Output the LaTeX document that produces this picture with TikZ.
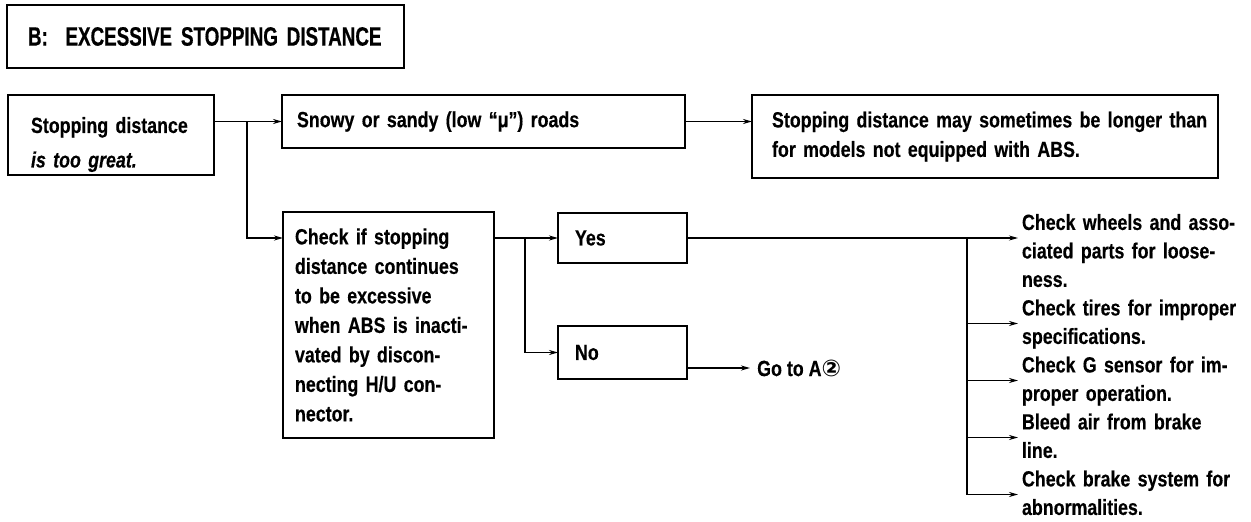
\documentclass[tikz,border=0pt]{standalone}
\usepackage{fontspec}
\setmainfont{Liberation Sans}
\newfontfamily\bodyfont{Liberation Sans}[FakeStretch=0.81, BoldFeatures={FakeBold=0.35}, BoldItalicFeatures={FakeBold=0.35}]
\newfontfamily\titlefont{Liberation Sans}[FakeStretch=0.71, BoldFeatures={FakeBold=0.5}]
\newfontfamily\symfont{DejaVu Sans}
\usetikzlibrary{arrows.meta}
\newcommand\nw[1]{\mbox{#1}}
\begin{document}
\begin{tikzpicture}[x=1pt,y=-1pt,
  box/.style={draw, line width=1.8pt, rectangle, anchor=north west, outer sep=0pt,
    align=left, inner ysep=0pt},
  txt/.style={font=\bodyfont\bfseries\fontsize{22}{29.5}\selectfont},
  item/.style={anchor=north west, inner sep=0pt, outer sep=0pt, align=left,
    text width=228pt, font=\bodyfont\bfseries\fontsize{22}{28.5}\selectfont},
  ln/.style={line width=1.8pt},
  arr/.style={line width=1.8pt, -{Stealth[length=9pt,width=5pt]}},
]
\useasboundingbox (0,0) rectangle (1251,522);

\node[box, minimum width=397pt, minimum height=63pt, text width=355pt, inner xsep=21pt,
  font=\titlefont\bfseries\fontsize{26.5}{30}\selectfont] (title) at (7,5)
  {\nw{B:\ \ EXCESSIVE STOPPING DISTANCE}};

\node[box, txt, font=\bodyfont\bfseries\fontsize{22}{34.5}\selectfont, text height=35pt,
  minimum width=206pt, minimum height=80pt, text width=160pt, inner xsep=23pt] (start) at (8,95)
  {\nw{Stopping distance}\\ {\itshape is too great.}};

\node[box, txt, minimum width=403pt, minimum height=53pt, text width=373pt, inner xsep=15pt] (snowy) at (282,95)
  {\nw{Snowy or sandy (low “μ”) roads}};

\node[box, txt, minimum width=466pt, minimum height=83pt, text width=426pt, inner xsep=20pt] (stop) at (752,95)
  {\nw{Stopping distance may sometimes be longer than}\\ \nw{for models not equipped with ABS.}};

\node[box, txt, minimum width=211pt, minimum height=226pt, text width=187pt, inner xsep=12pt] (check) at (283,212)
  {\nw{Check if stopping}\\ \nw{distance continues}\\ \nw{to be excessive}\\ \nw{when ABS is inacti-}\\ \nw{vated by discon-}\\ \nw{necting H/U con-}\\ nector.};

\node[box, txt, minimum width=129pt, minimum height=50pt, text width=95pt, inner xsep=17pt] (yes) at (558,213) {Yes};
\node[box, txt, minimum width=129pt, minimum height=53pt, text width=95pt, inner xsep=17pt] (no) at (558,326) {No};

\node[txt, anchor=west, inner sep=0pt] (goto) at (757,368) {Go to A{\symfont\bfseries\fontsize{23}{28}\selectfont ②}};

\node[item] (i1) at (1022,214) {\nw{Check wheels and asso-}\\ \nw{ciated parts for loose-}\\ ness.};
\node[item] (i2) at (1022,299.5) {\nw{Check tires for improper}\\ specifications.};
\node[item] (i3) at (1022,356.5) {\nw{Check G sensor for im-}\\ \nw{proper operation.}};
\node[item] (i4) at (1022,413.5) {\nw{Bleed air from brake}\\ line.};
\node[item] (i5) at (1022,470.5) {\nw{Check brake system for}\\ abnormalities.};

\coordinate (j1) at (247,0);
\coordinate (j2) at (525,0);
\coordinate (bx) at (967,0);
\coordinate (cin) at ([yshift=-26pt]check.north west);
\foreach \k in {1,...,5} {
  \coordinate (t\k) at ([xshift=-4pt,yshift=-24pt]i\k.north west);
}

\draw[arr] (start.east |- snowy.west) -- (snowy.west);
\draw[arr] (snowy.west -| j1) |- (cin);
\draw[arr] (snowy.east) -- (stop.west |- snowy.east);
\draw[arr] (cin -| check.east) -- (yes.west);
\draw[arr] (yes.west -| j2) |- (no.west);
\draw[arr] (goto.west -| no.east) -- ([xshift=-7pt]goto.west);

\draw[line width=1.1pt, -{Stealth[length=9pt,width=5pt]}] (yes.east) -- (yes.east -| t1);
\draw[ln] (yes.east -| bx) -- (t5 -| bx);
\foreach \k in {2,...,5} {
  \draw[arr] (t\k -| bx) -- (t\k);
}
\end{tikzpicture}
\end{document}
